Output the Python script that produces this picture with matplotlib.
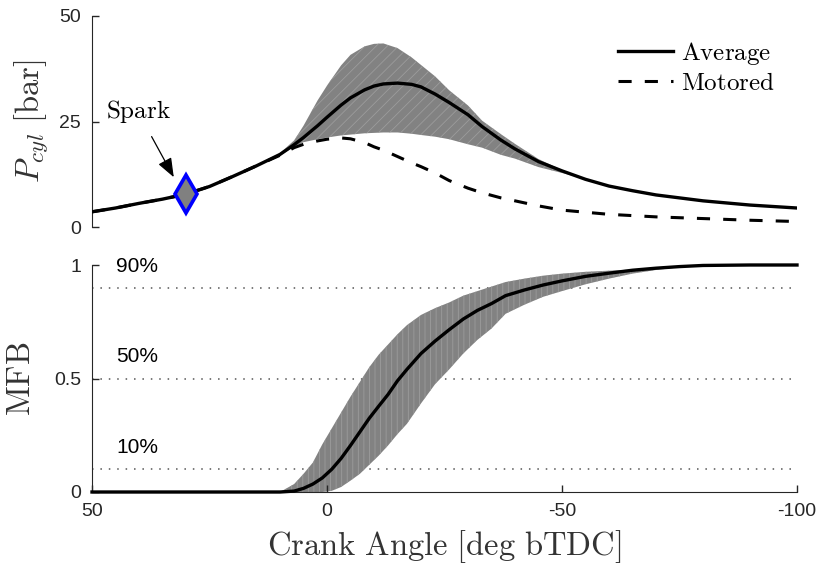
import matplotlib
matplotlib.use("Agg")
import matplotlib.pyplot as plt
from matplotlib.lines import Line2D

plt.rcParams['mathtext.fontset'] = 'cm'
plt.rcParams['font.family'] = ['Liberation Sans', 'DejaVu Sans']
plt.rcParams['hatch.linewidth'] = 0.6

# ---------------- data ----------------
theta_p = [50, 45, 40, 35, 30, 25, 20, 15, 10, 7, 5, 2, 0, -3, -5, -8, -10, -12, -15,
           -18, -20, -23, -26, -30, -33, -37, -40, -45, -50, -55, -60, -65, -70, -80,
           -90, -100]
p_avg = [3.6, 4.5, 5.6, 6.6, 7.8, 9.6, 12.0, 14.5, 17.2, 19.5, 21.2, 24.0, 26.0, 28.9,
         30.6, 32.5, 33.4, 33.9, 34.1, 33.8, 33.2, 31.5, 29.5, 26.6, 23.8, 20.6, 18.5,
         15.5, 13.3, 11.3, 9.7, 8.6, 7.6, 6.2, 5.2, 4.5]
p_upper = [3.6, 4.5, 5.6, 6.6, 7.8, 9.6, 12.0, 14.5, 17.5, 20.5, 24.0, 30.0, 33.5, 38.3,
           40.8, 42.8, 43.4, 43.5, 42.4, 40.2, 38.4, 35.7, 32.4, 28.8, 25.2, 22.0, 19.7,
           16.1, 13.5, 11.3, 9.7, 8.6, 7.6, 6.2, 5.2, 4.5]
p_lower = [3.6, 4.5, 5.6, 6.6, 7.8, 9.6, 12.0, 14.5, 16.9, 19.0, 20.1, 20.8, 21.2, 21.7,
           21.9, 22.2, 22.3, 22.4, 22.4, 22.1, 21.8, 21.4, 20.8, 19.6, 18.8, 17.1, 16.2,
           14.2, 12.8, 11.3, 9.7, 8.6, 7.6, 6.2, 5.2, 4.5]
p_motored = [3.6, 4.5, 5.6, 6.6, 7.8, 9.6, 12.0, 14.5, 17.0, 18.8, 19.6, 20.4, 20.8, 21.1,
             20.9, 20.0, 19.0, 18.2, 16.7, 15.2, 14.3, 12.8, 11.0, 9.2, 8.1, 6.9, 6.2,
             5.0, 4.0, 3.5, 3.0, 2.7, 2.4, 2.0, 1.6, 1.3]

theta_m = [50, 10, 7, 5, 3, 1, -1, -3, -5, -7, -9, -11, -13, -15, -17, -20, -23, -26,
           -29, -32, -35, -38, -42, -46, -50, -55, -60, -65, -70, -75, -80, -90, -100]
mfb_avg = [0, 0, 0.004, 0.016, 0.035, 0.062, 0.10, 0.148, 0.205, 0.265, 0.325, 0.378,
           0.43, 0.49, 0.54, 0.61, 0.665, 0.715, 0.762, 0.80, 0.83, 0.865, 0.89, 0.912,
           0.93, 0.95, 0.964, 0.977, 0.986, 0.993, 0.998, 1.0, 1.0]
mfb_upper = [0, 0, 0.035, 0.08, 0.13, 0.21, 0.28, 0.35, 0.42, 0.485, 0.55, 0.605, 0.65,
             0.695, 0.735, 0.78, 0.81, 0.835, 0.865, 0.885, 0.905, 0.925, 0.94, 0.953,
             0.962, 0.97, 0.975, 0.98, 0.986, 0.993, 0.998, 1.0, 1.0]
mfb_lower = [0, 0, 0, 0, 0, 0, 0.005, 0.022, 0.05, 0.08, 0.12, 0.16, 0.205, 0.255, 0.30,
             0.39, 0.475, 0.54, 0.61, 0.67, 0.72, 0.785, 0.825, 0.86, 0.885, 0.915, 0.94,
             0.962, 0.978, 0.99, 0.998, 1.0, 1.0]

spark_theta = 30
spark_p = 7.8

mfb_levels = [0.1, 0.5, 0.9]
mfb_level_labels = ['10%', '50%', '90%']

p_ticks = [0, 25, 50]
mfb_ticks = [0, 0.5, 1]
mfb_tick_labels = ['0', '0.5', '1']
x_ticks = [50, 0, -50, -100]
x_tick_labels = ['50', '0', '-50', '-100']

# ---------------- figure ----------------
W, H = 820, 565
fig = plt.figure(figsize=(W / 100, H / 100), dpi=100)
left = 92 / W
width = 705 / W
ax1 = fig.add_axes([left, (H - 227) / H, width, 211 / H])
ax2 = fig.add_axes([left, (H - 492) / H, width, 227 / H])

band_col = '#828282'
streak_col = '#9c9c9c'
spine_col = '#262626'
label_col = '#333333'

# ---- top: cylinder pressure ----
ax1.fill_between(theta_p, p_lower, p_upper, facecolor=band_col, edgecolor=streak_col,
                 hatch='///', lw=0, zorder=1)
ax1.plot(theta_p, p_motored, color='black', lw=2.2, dashes=(4.3, 4.3), zorder=2)
ax1.plot(theta_p, p_avg, color='black', lw=2.4, zorder=3)
ax1.plot([spark_theta], [spark_p], marker='d', ms=19, mfc='#808080', mec='#0000ff',
         mew=2.6, zorder=4, clip_on=False)
ax1.annotate(r'$\mathrm{Spark}$', xy=(32.6, 11.8), xytext=(40.2, 27.3),
             fontsize=18, ha='center', va='center',
             arrowprops=dict(arrowstyle='-|>,head_length=0.65,head_width=0.25',
                             color='black', lw=0.9, shrinkA=7, shrinkB=0))

ax1.set_xlim(50, -100)
ax1.set_ylim(0, 50)
ax1.set_yticks(p_ticks)
ax1.set_yticklabels([str(t) for t in p_ticks])
ax1.set_xticks([])
for s in ['top', 'right', 'bottom']:
    ax1.spines[s].set_visible(False)
ax1.spines['left'].set_color(spine_col)
ax1.tick_params(axis='y', direction='in', length=5, width=1, colors=spine_col,
                labelsize=14, pad=8)
ax1.set_ylabel(r'$P_{cyl}\ \mathrm{[bar]}$', fontsize=23.5, color=label_col)
ax1.yaxis.set_label_coords(-0.06, 0.5)

handles = [Line2D([], [], color='black', lw=2.4),
           Line2D([], [], color='black', lw=2.2, dashes=(4.3, 4.3))]
leg = ax1.legend(handles, [r'$\mathrm{Average}$', r'$\mathrm{Motored}$'],
                 loc='upper right', bbox_to_anchor=(0.969, 0.886), frameon=False,
                 fontsize=18, handlelength=2.2, handletextpad=0.32, labelspacing=0.15,
                 borderpad=0, borderaxespad=0)

# ---- bottom: mass fraction burned ----
ax2.fill_between(theta_m, mfb_lower, mfb_upper, facecolor=band_col, edgecolor=streak_col,
                 hatch='|||', lw=0, zorder=1)
ax2.plot(theta_m, mfb_avg, color='black', lw=2.4, zorder=3, clip_on=False)
for lev, lab in zip(mfb_levels, mfb_level_labels):
    ax2.axhline(lev, color='#555555', lw=1.1, ls=(0, (1, 4.5)), zorder=0)
    ax2.text(44.8, lev + 0.095, lab, fontsize=15, ha='left', va='center', color='black')

ax2.set_xlim(50, -100)
ax2.set_ylim(0, 1)
ax2.set_yticks(mfb_ticks)
ax2.set_yticklabels(mfb_tick_labels)
ax2.set_xticks(x_ticks)
ax2.set_xticklabels(x_tick_labels)
for s in ['top', 'right']:
    ax2.spines[s].set_visible(False)
for s in ['left', 'bottom']:
    ax2.spines[s].set_color(spine_col)
ax2.tick_params(axis='both', direction='in', length=5, width=1, colors=spine_col,
                labelsize=14)
ax2.tick_params(axis='y', pad=8)
ax2.tick_params(axis='x', pad=8)
ax2.set_ylabel(r'$\mathrm{MFB}$', fontsize=23.5, color=label_col)
ax2.yaxis.set_label_coords(-0.078, 0.5)
ax2.set_xlabel(r'$\mathrm{Crank\ Angle\ [deg\ bTDC]}$', fontsize=23.5, color=label_col,
               labelpad=6)

fig.savefig('out.png', dpi=100)
